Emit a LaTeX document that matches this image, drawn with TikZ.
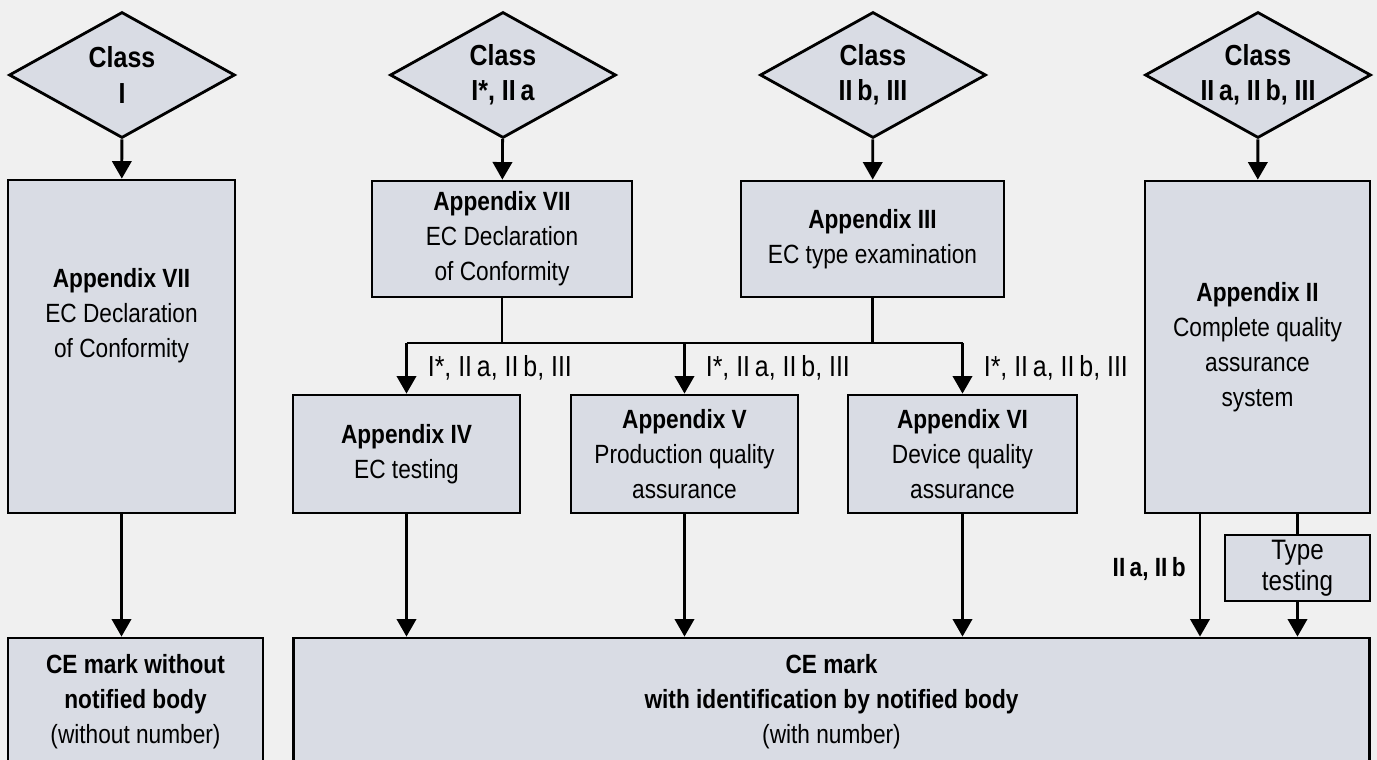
\documentclass[tikz,border=0pt]{standalone}
\usepackage{fontspec}
\setmainfont{Liberation Sans}[FakeStretch=0.86]
\usetikzlibrary{shapes.geometric,arrows.meta}
\definecolor{pagebg}{HTML}{F0F0F0}
\definecolor{boxfill}{HTML}{D9DCE4}

\begin{document}
\begin{tikzpicture}[
x=0.02cm, y=-0.02cm,
font=\fontsize{15}{20}\selectfont,
class/.style={diamond,draw=black,fill=boxfill,line width=1.6pt,inner sep=0pt,minimum width=4.52cm,minimum height=2.52cm},
classtext/.style={font=\fontsize{16.5}{20}\selectfont\bfseries,align=center},
appendix/.style={rectangle,draw=black,fill=boxfill,line width=1.6pt,align=center,inner sep=0pt},
branch/.style={font=\fontsize{16.5}{20}\selectfont},
arrow/.style={-{Triangle[width=11pt,length=10pt]},line width=1.6pt},
link/.style={line width=1.6pt}
]
\useasboundingbox (0,0) rectangle (1377,760);
\clip (0,0) rectangle (1377,760);
\fill[pagebg] (0,0) rectangle (1377,760);

\node[class] (c1) at (122,75) {};
\node[classtext] (c1t) at (c1) {Class\\I};
\node[class] (c2) at (503,75) {};
\node[classtext] (c2t) at (c2) {Class\\I*, II\,a};
\node[class] (c3) at (873,75) {};
\node[classtext] (c3t) at (c3) {Class\\II\,b, III};
\node[class] (c4) at (1258,75) {};
\node[classtext] (c4t) at (c4) {Class\\II\,a, II\,b, III};

\node[appendix,minimum width=4.54cm,minimum height=6.66cm] (app7a) at (121.5,346.5) {};
\node[align=center] (app7at) at (121.5,316) {\textbf{Appendix VII}\\EC Declaration\\of Conformity};
\node[appendix,minimum width=5.2cm,minimum height=2.32cm] (app7b) at (502,239) {\textbf{Appendix VII}\\EC Declaration\\of Conformity};
\node[appendix,minimum width=5.26cm,minimum height=2.32cm] (app3) at (872.5,239) {\textbf{Appendix III}\\EC type examination};
\node[appendix,minimum width=4.5cm,minimum height=6.64cm] (app2) at (1257.5,347) {\textbf{Appendix II}\\Complete quality\\assurance\\system};

\node[appendix,minimum width=4.54cm,minimum height=2.36cm] (app4) at (406.5,454) {\textbf{Appendix IV}\\EC testing};
\node[appendix,minimum width=4.54cm,minimum height=2.36cm] (app5) at (684.5,454) {\textbf{Appendix V}\\Production quality\\assurance};
\node[appendix,minimum width=4.58cm,minimum height=2.36cm] (app6) at (962.5,454) {\textbf{Appendix VI}\\Device quality\\assurance};
\node[appendix,minimum width=2.9cm,minimum height=1.32cm,font=\fontsize{16}{17.5}\selectfont] (tt) at (1297.5,568) {Type\\testing};

\node[appendix,minimum width=5.1cm,minimum height=2.56cm] (ce0) at (135.5,702) {\textbf{CE mark without}\\\textbf{notified body}\\(without number)};
\node[appendix,minimum width=21.54cm,minimum height=2.56cm] (ce) at (831.5,702) {\textbf{CE mark}\\\textbf{with identification by notified body}\\(with number)};

\coordinate (split) at (0,343);
\coordinate (app2out) at (1200,513);

\draw[arrow] (c1) -- (app7a);
\draw[arrow] (c2) -- (app7b);
\draw[arrow] (c3) -- (app3);
\draw[arrow] (c4) -- (app2);

\draw[link] (app7b.south) -- (app7b.south |- split);
\draw[link] (app3.south) -- (app3.south |- split);
\draw[link] (app4.north |- split) -- (app6.north |- split);
\draw[arrow] (app4.north |- split) -- node[branch,right,xshift=8pt] {I*, II\,a, II\,b, III} (app4.north);
\draw[arrow] (app5.north |- split) -- node[branch,right,xshift=8pt] {I*, II\,a, II\,b, III} (app5.north);
\draw[arrow] (app6.north |- split) -- node[branch,right,xshift=8pt] {I*, II\,a, II\,b, III} (app6.north);

\draw[arrow] (app7a.south) -- (app7a.south |- ce0.north);
\draw[arrow] (app4.south) -- (app4.south |- ce.north);
\draw[arrow] (app5.south) -- (app5.south |- ce.north);
\draw[arrow] (app6.south) -- (app6.south |- ce.north);
\draw[arrow] (app2out) -- node[branch,left,pos=0.45,xshift=-4pt,font=\fontsize{15}{20}\selectfont\bfseries] {II\,a, II\,b} (app2out |- ce.north);
\draw[link] (tt.north |- app2.south) -- (tt.north);
\draw[arrow] (tt.south) -- (tt.south |- ce.north);
\end{tikzpicture}
\end{document}
